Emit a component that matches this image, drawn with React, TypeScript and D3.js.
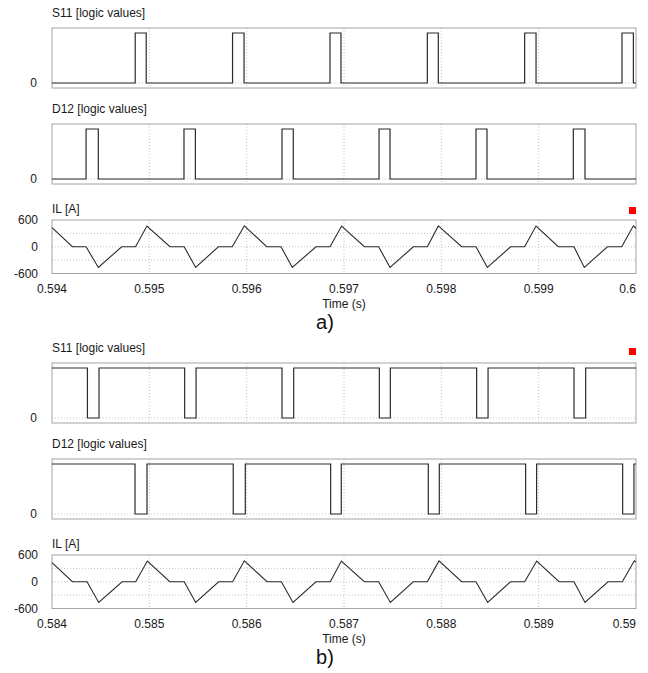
import React from 'react'
import * as d3 from 'd3'

// a) window 0.594 .. 0.6 s
const tickLabelsA = ['0.594', '0.595', '0.596', '0.597', '0.598', '0.599', '0.6']
const s11RiseA = [0.594855, 0.595855, 0.596856, 0.597856, 0.598856, 0.599856]
const s11FallA = [0.594968, 0.595973, 0.596969, 0.597969, 0.598973, 0.599973]
const d12RiseA = [0.59435, 0.595356, 0.596363, 0.59736, 0.598356, 0.599356]
const d12FallA = [0.594476, 0.595473, 0.596479, 0.597473, 0.598469, 0.599476]
const ilTimeA = [
  0.594, 0.59421, 0.59435, 0.594476, 0.594716, 0.594858, 0.594975,
  0.595212, 0.595358, 0.595476, 0.595709, 0.595852, 0.595976,
  0.596206, 0.596353, 0.596469, 0.596712, 0.596856, 0.596976,
  0.597209, 0.597356, 0.597473, 0.597712, 0.597856, 0.597969,
  0.598209, 0.598356, 0.598473, 0.598712, 0.598856, 0.598973,
  0.599202, 0.599363, 0.599469, 0.599706, 0.599853, 0.599973, 0.6
]
const ilValueA = [
  430, 0, 0, -465, 0, 0, 465,
  0, 0, -465, 0, 0, 470,
  0, 0, -465, 0, 0, 465,
  0, 0, -465, 0, 0, 468,
  0, 0, -465, 0, 0, 465,
  0, 0, -465, 0, 0, 470, 415
]

// b) window 0.584 .. 0.59 s
const tickLabelsB = ['0.584', '0.585', '0.586', '0.587', '0.588', '0.589', '0.59']
const s11FallB = [0.584364, 0.585363, 0.586363, 0.587363, 0.588363, 0.589363]
const s11RiseB = [0.584483, 0.58548, 0.586483, 0.587476, 0.58848, 0.589483]
const d12FallB = [0.584853, 0.585862, 0.586863, 0.587866, 0.588866, 0.589863]
const d12RiseB = [0.584976, 0.585986, 0.586972, 0.587979, 0.588979, 0.589979]
const ilTimeB = [
  0.584, 0.58421, 0.58436, 0.58448, 0.58472, 0.58486, 0.58498,
  0.58521, 0.585358, 0.585476, 0.585712, 0.585856, 0.585976,
  0.586209, 0.586356, 0.586476, 0.586712, 0.586859, 0.586973,
  0.587209, 0.587356, 0.587476, 0.587712, 0.587856, 0.587976,
  0.588209, 0.588356, 0.588476, 0.588712, 0.588856, 0.58898,
  0.589209, 0.589363, 0.589476, 0.589712, 0.589859, 0.589983, 0.59
]
const ilValueB = [
  430, 0, 0, -465, 0, 0, 465,
  0, 0, -465, 0, 0, 470,
  0, 0, -465, 0, 0, 465,
  0, 0, -465, 0, 0, 468,
  0, 0, -465, 0, 0, 465,
  0, 0, -465, 0, 0, 470, 440
]

const ilTicks = [600, 0, -600]
const ilGrid = [300, 0, -300]

const FONT = '"Liberation Sans", Arial, sans-serif'
const LEFT = 52
const RIGHT = 636
const TRACE = '#2b2b2b'
const BORDER = '#a4a4a4'
const GRID = '#c4c4c4'

function stepPoints(t0, t1, start, edges) {
  const pts = [[t0, start]]
  let v = start
  edges.forEach(t => {
    pts.push([t, v])
    v = 1 - v
    pts.push([t, v])
  })
  pts.push([t1, v])
  return pts
}

const Grid = ({ x, ticks, top, bottom }) => (
  <g>
    {ticks.slice(1, -1).map(t => (
      <line key={t} x1={x(t)} x2={x(t)} y1={top} y2={bottom}
        stroke={GRID} strokeWidth={1} strokeDasharray="1,2" />
    ))}
  </g>
)

const LogicPlot = ({ title, top, x, ticks, start, edges }) => {
  const h = 60
  const y = d3.scaleLinear().domain([-0.1, 1.1]).range([top + h, top])
  const [t0, t1] = x.domain()
  const pts = stepPoints(t0, t1, start, edges)
  const line = d3.line().x(d => x(d[0])).y(d => y(d[1]))
  return (
    <g>
      <text x={LEFT} y={top - 11} fontSize={12} fill="#1a1a1a">{title}</text>
      <Grid x={x} ticks={ticks} top={top} bottom={top + h} />
      <line x1={LEFT} x2={RIGHT} y1={y(0)} y2={y(0)} stroke={GRID} strokeDasharray="1,2" />
      <rect x={LEFT} y={top} width={RIGHT - LEFT} height={h} fill="none" stroke={BORDER} />
      <path d={line(pts)} fill="none" stroke={TRACE} strokeWidth={1.2} />
      <text x={37} y={y(0)} dy="0.35em" fontSize={12} textAnchor="end" fill="#1a1a1a">0</text>
    </g>
  )
}

const CurrentPlot = ({ top, x, ticks, labels, times, values }) => {
  const h = 53.5
  const y = d3.scaleLinear().domain([-600, 600]).range([top + h, top])
  const line = d3.line().x(d => x(d[0])).y(d => y(d[1]))
  const pts = d3.zip(times, values)
  return (
    <g>
      <text x={LEFT} y={top - 7} fontSize={12} fill="#1a1a1a">IL [A]</text>
      <Grid x={x} ticks={ticks} top={top} bottom={top + h} />
      {ilGrid.map(v => (
        <line key={v} x1={LEFT} x2={RIGHT} y1={y(v)} y2={y(v)}
          stroke={GRID} strokeDasharray="1,2" />
      ))}
      <rect x={LEFT} y={top} width={RIGHT - LEFT} height={h} fill="none" stroke={BORDER} />
      <path d={line(pts)} fill="none" stroke={TRACE} strokeWidth={1.1} />
      {ilTicks.map(v => (
        <text key={v} x={38} y={y(v)} dy="0.35em" fontSize={12} textAnchor="end" fill="#1a1a1a">{v}</text>
      ))}
      {ticks.map((t, i) => (
        <text key={t} x={i === ticks.length - 1 ? RIGHT : x(t)} y={top + 72.5}
          fontSize={12} textAnchor={i === ticks.length - 1 ? 'end' : 'middle'} fill="#1a1a1a">
          {labels[i]}
        </text>
      ))}
      <text x={(LEFT + RIGHT) / 2} y={top + 87.5} fontSize={12} textAnchor="middle" fill="#1a1a1a">Time (s)</text>
    </g>
  )
}

const Panel = ({ dy, caption, labels, s11Start, s11Edges, d12Start, d12Edges, times, values, markerY }) => {
  const ticks = labels.map(Number)
  const x = d3.scaleLinear().domain([ticks[0], ticks[ticks.length - 1]]).range([LEFT, RIGHT])
  return (
    <g transform={`translate(0,${dy})`}>
      <LogicPlot title="S11 [logic values]" top={28} x={x} ticks={ticks} start={s11Start} edges={s11Edges} />
      <LogicPlot title="D12 [logic values]" top={124} x={x} ticks={ticks} start={d12Start} edges={d12Edges} />
      <CurrentPlot top={220} x={x} ticks={ticks} labels={labels} times={times} values={values} />
      <rect x={629} y={markerY} width={7} height={7} fill="#ff0000" />
      <text x={325} y={329} fontSize={20} textAnchor="middle" fill="#111">{caption}</text>
    </g>
  )
}

export default function App() {
  return (
    <svg width={648} height={673} fontFamily={FONT}
      style={{ position: 'absolute', left: 0, top: 0, background: '#fff' }}>
      <rect width={648} height={673} fill="#fff" />
      <Panel dy={0} caption="a)" labels={tickLabelsA}
        s11Start={0} s11Edges={d3.merge(d3.zip(s11RiseA, s11FallA))}
        d12Start={0} d12Edges={d3.merge(d3.zip(d12RiseA, d12FallA))}
        times={ilTimeA} values={ilValueA} markerY={207} />
      <Panel dy={335} caption="b)" labels={tickLabelsB}
        s11Start={1} s11Edges={d3.merge(d3.zip(s11FallB, s11RiseB))}
        d12Start={1} d12Edges={d3.merge(d3.zip(d12FallB, d12RiseB))}
        times={ilTimeB} values={ilValueB} markerY={13} />
    </svg>
  )
}
